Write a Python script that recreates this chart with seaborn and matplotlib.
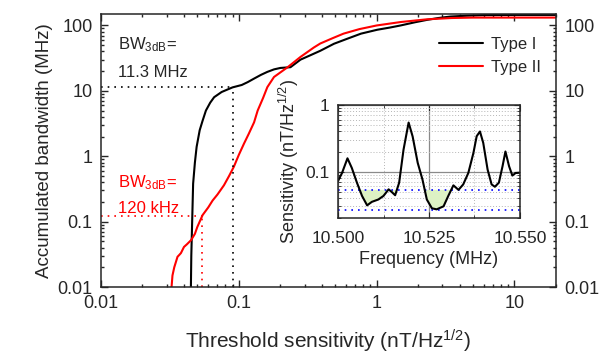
import numpy as np
import pandas as pd
import seaborn as sns
import matplotlib.pyplot as plt
from matplotlib.ticker import LogLocator, FixedLocator, NullFormatter

# Accumulated bandwidth vs threshold sensitivity
type1_x = [0.0449, 0.0452, 0.0458, 0.0466, 0.0480, 0.0494, 0.0520, 0.0546, 0.0577, 0.0620,
           0.0662, 0.0750, 0.0900, 0.1050, 0.116, 0.129, 0.145, 0.161, 0.180, 0.200, 0.237,
           0.280, 0.330, 0.390, 0.490, 0.610, 0.770, 1.01, 1.25, 1.49, 1.90, 2.33, 2.80,
           3.44, 4.50, 5.96, 10.0, 20.0]
type1_y = [0.01, 0.03, 0.09, 0.38, 0.80, 1.39, 2.5, 3.5, 5.0, 6.6,
           8.0, 9.6, 11.3, 12.3, 13.6, 15.4, 17.6, 19.5, 21.3, 22.4, 23.0,
           30.0, 35.0, 41.0, 52.5, 62.5, 75.0, 86.0, 93.0, 100.0, 112.0, 122.0, 130.0,
           137.0, 141.0, 144.0, 145.0, 145.0]

type2_x = [0.0325, 0.0330, 0.0340, 0.0359, 0.0370, 0.0380, 0.0400, 0.0420, 0.0450, 0.0480,
           0.0500, 0.0546, 0.0600, 0.0645, 0.0700, 0.0780, 0.0850, 0.0920, 0.100, 0.109,
           0.118, 0.129, 0.137, 0.150, 0.161, 0.180, 0.226, 0.280, 0.350, 0.390, 0.480,
           0.575, 0.750, 1.00, 1.50, 2.30, 3.50, 5.00, 20.0]
type2_y = [0.01, 0.015, 0.020, 0.029, 0.031, 0.033, 0.041, 0.045, 0.052, 0.065,
           0.083, 0.126, 0.165, 0.21, 0.26, 0.36, 0.50, 0.69, 1.05, 1.56,
           2.2, 3.3, 5.0, 7.8, 11.4, 16.3, 23.0, 33.0, 46.0, 53.0, 64.0,
           75.0, 88.0, 100.0, 113.0, 124.0, 130.0, 132.0, 132.0]

# Inset spectrum
freq = [10.5000, 10.5011, 10.5026, 10.5038, 10.5052, 10.5066, 10.5080, 10.5093, 10.5111,
        10.5125, 10.5139, 10.5148, 10.5157, 10.5168, 10.5180, 10.5194, 10.5205, 10.5219,
        10.5232, 10.5244, 10.5258, 10.5271, 10.5290, 10.5303, 10.5317, 10.5331, 10.5344,
        10.5358, 10.5372, 10.5381, 10.5390, 10.5399, 10.5411, 10.5422, 10.5431, 10.5442,
        10.5452, 10.5460, 10.5470, 10.5479, 10.5488, 10.5500]
sens = [0.072, 0.095, 0.158, 0.113, 0.068, 0.043, 0.031, 0.035, 0.038,
        0.043, 0.054, 0.049, 0.044, 0.068, 0.213, 0.545, 0.337, 0.135,
        0.076, 0.038, 0.028, 0.027, 0.030, 0.043, 0.062, 0.053, 0.064,
        0.095, 0.19, 0.34, 0.40, 0.27, 0.107, 0.064, 0.059, 0.068,
        0.12, 0.20, 0.12, 0.087, 0.095, 0.096]
levels = [0.053, 0.026]

# markers on the main plot
bw1, thr1 = 11.3, 0.09
bw2, thr2 = 0.12, 0.054

sns.set_style("ticks")
plt.rcParams['font.family'] = ['Liberation Sans', 'DejaVu Sans']
plt.rcParams['mathtext.fontset'] = 'custom'
plt.rcParams['mathtext.rm'] = 'Liberation Sans'
plt.rcParams['mathtext.it'] = 'Liberation Sans:italic'

df = pd.concat([
    pd.DataFrame({'x': type1_x, 'y': type1_y, 'type': 'Type I'}),
    pd.DataFrame({'x': type2_x, 'y': type2_y, 'type': 'Type II'}),
])

fig = plt.figure(figsize=(6.14, 3.56), dpi=100)
ax = fig.add_axes([0.1645, 0.1938, 0.741, 0.767])
sns.lineplot(data=df, x='x', y='y', hue='type', palette={'Type I': 'black', 'Type II': 'red'},
             sort=False, estimator=None, lw=1.5, ax=ax)
ax.set_xscale('log')
ax.set_yscale('log')
ax.set_xlim(0.01, 20)
ax.set_ylim(0.01, 150)

ax.plot([0.01, thr1], [bw1, bw1], ls=(0, (1, 3)), color='black', lw=1.2)
ax.plot([thr1, thr1], [0.01, bw1], ls=(0, (1, 3)), color='black', lw=1.2)
ax.plot([0.01, thr2], [bw2, bw2], ls=(0, (1, 3)), color='red', lw=1.2)
ax.plot([thr2, thr2], [0.01, bw2], ls=(0, (1, 3)), color='red', lw=1.2)

ax.set_xticks([0.01, 0.1, 1, 10])
ax.set_xticklabels(['0.01', '0.1', '1', '10'])
ax.set_yticks([0.01, 0.1, 1, 10, 100])
ax.set_yticklabels(['0.01', '0.1', '1', '10', '100'])
ax.xaxis.set_minor_locator(LogLocator(base=10, subs=np.arange(2, 10)))
ax.yaxis.set_minor_locator(LogLocator(base=10, subs=np.arange(2, 10)))
ax.xaxis.set_minor_formatter(NullFormatter())
ax.yaxis.set_minor_formatter(NullFormatter())
ax.tick_params(which='both', direction='in', top=True, right=True, labelright=True,
               labelsize=13, width=1, pad=6)
ax.tick_params(which='major', length=5)
ax.tick_params(which='minor', length=2.5)
for s in ax.spines.values():
    s.set_linewidth(1.1)

ax.set_xlabel('Threshold sensitivity (nT/Hz$^{1/2}$)', fontsize=15, labelpad=11)
ax.set_ylabel('Accumulated bandwidth (MHz)', fontsize=13.5, labelpad=3)

ax.text(0.037, 0.886, 'BW$_{\\mathrm{3dB}}$=', transform=ax.transAxes, fontsize=12, va='center')
ax.text(0.037, 0.787, '11.3 MHz', transform=ax.transAxes, fontsize=12, va='center')
ax.text(0.037, 0.381, 'BW$_{\\mathrm{3dB}}$=', transform=ax.transAxes, fontsize=12, va='center', color='red')
ax.text(0.037, 0.289, '120 kHz', transform=ax.transAxes, fontsize=12, va='center', color='red')

ax.legend(loc='upper right', bbox_to_anchor=(1.0, 0.97), frameon=False, fontsize=12,
          handlelength=2.6, handletextpad=0.5, labelspacing=0.45)

# inset
ins = fig.add_axes([0.5505, 0.3876, 0.2964, 0.3174])
ins.set_yscale('log')
ins.set_xlim(10.5, 10.55)
ins.set_ylim(0.02, 1)
ins.fill_between(freq, sens, levels[0], where=np.array(sens) < levels[0], interpolate=True,
                 color='#ddf2c4', lw=0)
for lv in levels:
    ins.axhline(lv, ls=(0, (1, 3)), color='blue', lw=1.2)
sns.lineplot(x=freq, y=sens, color='black', lw=1.5, sort=False, estimator=None, ax=ins)
ins.set_xticks([10.5, 10.525, 10.55])
ins.set_xticklabels(['10.500', '10.525', '10.550'])
ins.xaxis.set_minor_locator(FixedLocator([10.5125, 10.5375]))
ins.set_yticks([0.1, 1])
ins.set_yticklabels(['0.1', '1'])
ins.yaxis.set_minor_locator(LogLocator(base=10, subs=np.arange(2, 10)))
ins.yaxis.set_minor_formatter(NullFormatter())
ins.grid(which='major', color='#8a8a8a', lw=0.9, ls='-')
ins.grid(which='minor', color='#b5b5b5', lw=0.7, ls=(0, (1, 2)))
ins.set_axisbelow(True)
ins.tick_params(which='both', direction='in', top=True, right=True, labelsize=12.5, pad=6)
ins.tick_params(axis='x', which='both', pad=9)
ins.tick_params(which='major', length=4)
ins.tick_params(which='minor', length=2)
ins.set_xlabel('Frequency (MHz)', fontsize=13, labelpad=4)
ins.set_ylabel('Sensitivity (nT/Hz$^{1/2}$)', fontsize=13, labelpad=3)
for s in ins.spines.values():
    s.set_linewidth(1.1)

fig.savefig('out.png', dpi=100)
